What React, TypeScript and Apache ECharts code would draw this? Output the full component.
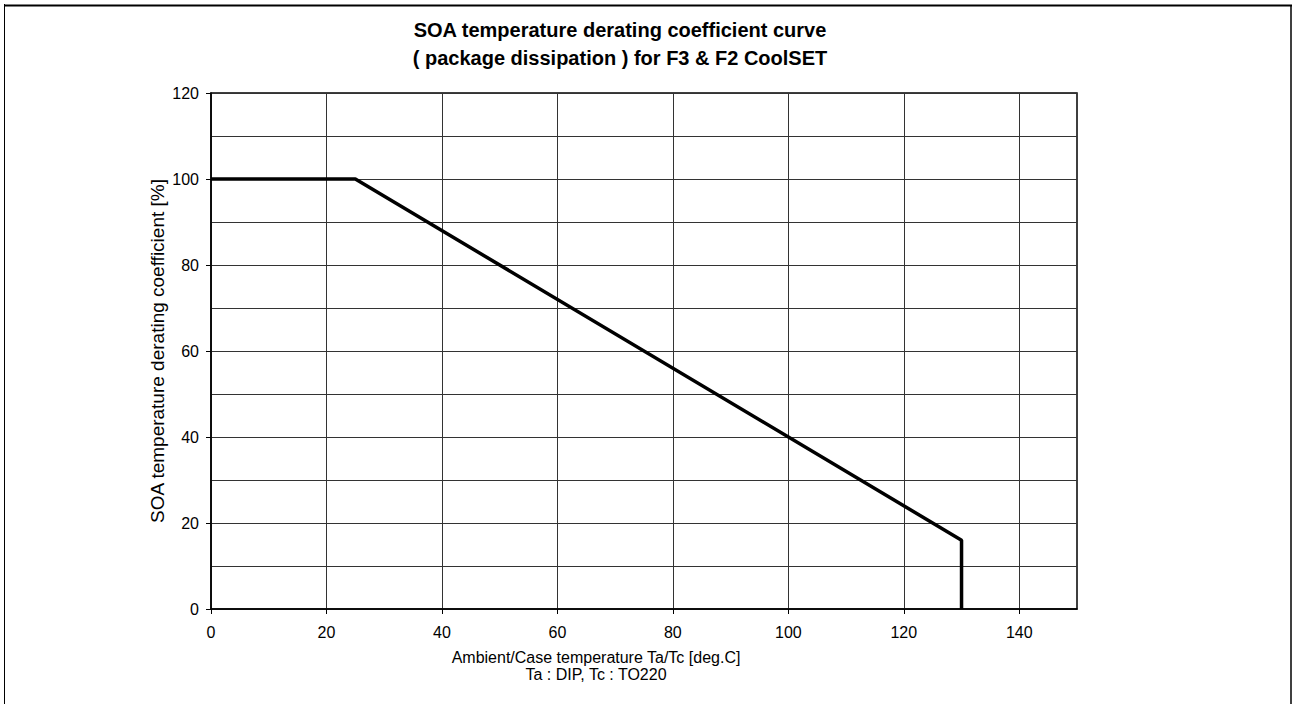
import React, { useEffect, useRef } from "react";
import * as echarts from "echarts";

const FONT = "'Liberation Sans', Arial, sans-serif";

const titleLines = [
  "SOA temperature derating coefficient curve",
  "( package dissipation ) for F3 & F2 CoolSET",
];
const xNameLines = ["Ambient/Case temperature Ta/Tc [deg.C]", "Ta : DIP, Tc : TO220"];
const yName = "SOA temperature derating coefficient [%]";

const xTicks = [0, 20, 40, 60, 80, 100, 120, 140];
const curveTemp = [0, 25, 130, 130];
const curveCoef = [100, 100, 16, 0];

export default function App() {
  const ref = useRef<HTMLDivElement>(null);
  useEffect(() => {
    if (!ref.current) return;
    const chart = echarts.init(ref.current, null, { renderer: "svg" });
    const data = curveTemp.map((t, i) => [t, curveCoef[i]]);
    chart.setOption({
      animation: false,
      backgroundColor: "#ffffff",
      textStyle: { fontFamily: FONT },
      grid: {
        left: 211,
        top: 93,
        right: 219,
        bottom: 95,
        show: true,
        borderColor: "#000",
        borderWidth: 1.5,
        containLabel: false,
      },
      xAxis: {
        type: "value",
        min: 0,
        max: 150,
        interval: 20,
        axisLine: { show: true, onZero: false, lineStyle: { color: "#000", width: 1.5 } },
        axisTick: { show: true, length: 5, lineStyle: { color: "#000" }, customValues: xTicks },
        axisLabel: { color: "#000", fontSize: 16, fontFamily: FONT, margin: 15, customValues: xTicks },
        splitLine: { show: true, lineStyle: { color: "#333", width: 1 } },
      },
      yAxis: {
        type: "value",
        min: 0,
        max: 120,
        interval: 20,
        name: yName,
        nameLocation: "middle",
        nameGap: 44,
        nameMoveOverlap: false,
        nameTextStyle: { color: "#000", fontSize: 19, fontFamily: FONT },
        axisLine: { show: true, onZero: false, lineStyle: { color: "#000", width: 1.5 } },
        axisTick: { show: true, length: 5, lineStyle: { color: "#000" } },
        axisLabel: { color: "#000", fontSize: 16, fontFamily: FONT, margin: 12 },
        splitLine: { show: true, lineStyle: { color: "#333", width: 1 } },
        minorTick: { show: false, splitNumber: 2 },
        minorSplitLine: { show: true, lineStyle: { color: "#333", width: 1 } },
      },
      graphic: [
        {
          type: "text",
          x: 620,
          y: 16,
          style: {
            text: titleLines.join("\n"),
            font: `bold 20px ${FONT}`,
            textAlign: "center",
            lineHeight: 28,
            fill: "#000",
          },
        },
        {
          type: "text",
          x: 596,
          y: 649,
          style: {
            text: xNameLines.join("\n"),
            font: `16px ${FONT}`,
            textAlign: "center",
            lineHeight: 17,
            fill: "#000",
          },
        },
        { type: "line", shape: { x1: 4.5, y1: 4, x2: 4.5, y2: 710 }, style: { stroke: "#000", lineWidth: 1 } },
        { type: "line", shape: { x1: 4, y1: 5.5, x2: 1292, y2: 5.5 }, style: { stroke: "#000", lineWidth: 2 } },
        { type: "line", shape: { x1: 1291, y1: 5, x2: 1291, y2: 710 }, style: { stroke: "#000", lineWidth: 1.5 } },
      ],
      series: [
        {
          type: "line",
          data,
          symbol: "none",
          lineStyle: { color: "#000", width: 3.5 },
          clip: false,
        },
      ],
    });
    return () => chart.dispose();
  }, []);
  return (
    <div
      ref={ref}
      style={{ position: "absolute", left: 0, top: 0, width: 1296, height: 704, background: "#fff" }}
    />
  );
}
